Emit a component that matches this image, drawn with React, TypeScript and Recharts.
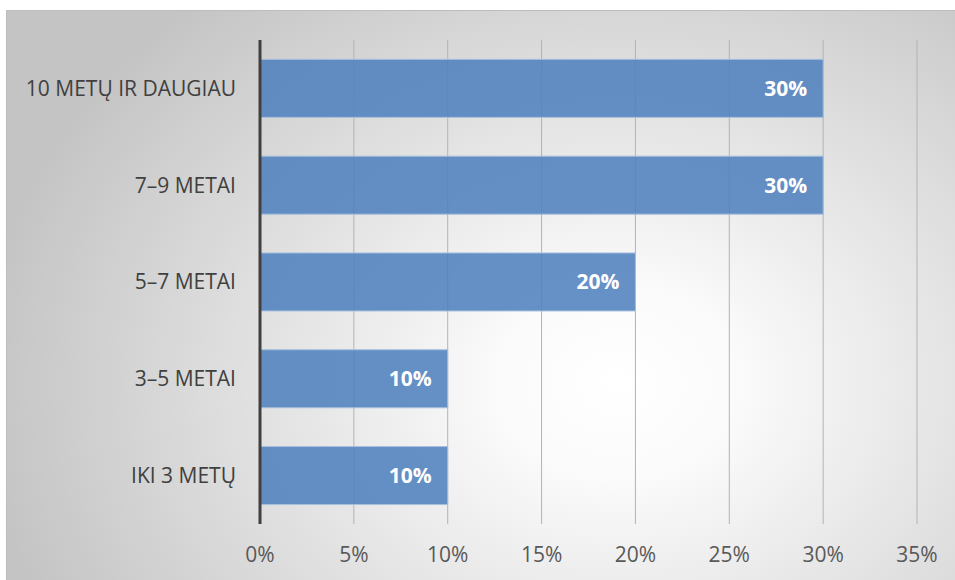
import React from "react";
import { BarChart, Bar, XAxis, YAxis, CartesianGrid, LabelList } from "recharts";

const categories = ["10 METŲ IR DAUGIAU", "7–9 METAI", "5–7 METAI", "3–5 METAI", "IKI 3 METŲ"];
const shares = [30, 30, 20, 10, 10];
const xTicks = [0, 5, 10, 15, 20, 25, 30, 35];

const data = categories.map((c, i) => ({ category: c, share: shares[i] }));

const FONT = "'Open Sans', 'DejaVu Sans', sans-serif";

export default function App() {
  return (
    <div style={{ position: "absolute", left: 0, top: 0, width: 955, height: 580, overflow: "hidden", background: "#fff" }}>
      <div
        style={{
          position: "absolute",
          left: 6,
          top: 10,
          width: 970,
          height: 600,
          borderLeft: "1px solid #bdbdbd",
          borderTop: "1px solid #bdbdbd",
          background:
            "radial-gradient(ellipse 66% 85% at 63% 62%, #ffffff 0%, #fbfbfb 18%, #c4c4c4 100%)",
        }}
      />
      <div style={{ position: "absolute", left: 0, top: 0 }}>
        <BarChart
          width={955}
          height={580}
          data={data}
          layout="vertical"
          margin={{ top: 40, right: 38, bottom: 26, left: 0 }}
          barCategoryGap="20%"
        >
          <CartesianGrid horizontal={false} vertical={true} stroke="#b3b3b3" strokeWidth={1} />
          <XAxis
            type="number"
            domain={[0, 35]}
            ticks={xTicks}
            height={30}
            tickFormatter={(v: number) => `${v}%`}
            axisLine={false}
            tickLine={false}
            tickSize={0}
            tickMargin={23}
            tick={{ fill: "#595959", fontSize: 21, fontFamily: FONT }}
            interval={0}
          />
          <YAxis
            type="category"
            dataKey="category"
            width={260}
            axisLine={{ stroke: "#404040", strokeWidth: 3 }}
            tickLine={false}
            tickSize={0}
            tickMargin={24}
            tick={{ fill: "#404040", fontSize: 21, fontFamily: FONT }}
            interval={0}
          />
          <Bar
            dataKey="share"
            fill="#4f81bd"
            fillOpacity={0.87}
            stroke="#a7bfdd"
            strokeWidth={1}
            isAnimationActive={false}
          >
            <LabelList
              dataKey="share"
              position="insideRight"
              offset={16}
              formatter={(v: number) => `${v}%`}
              style={{ fill: "#ffffff", fontSize: 21, fontWeight: 700, fontFamily: FONT }}
            />
          </Bar>
        </BarChart>
      </div>
    </div>
  );
}
